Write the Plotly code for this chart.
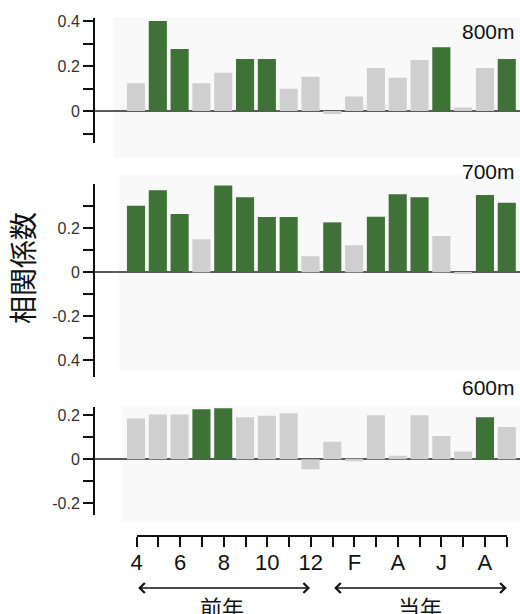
import plotly.graph_objects as go

W, H = 520, 614

# ---------------- data ----------------
months = ["4", "5", "6", "7", "8", "9", "10", "11", "12",
          "J", "F", "M", "A", "M", "J", "J", "A", "S"]
tick_labels = ["4", "", "6", "", "8", "", "10", "", "12",
               "", "F", "", "A", "", "J", "", "A", ""]

vals_800 = [0.123, 0.40, 0.276, 0.123, 0.17, 0.231, 0.231, 0.099, 0.152,
            -0.013, 0.065, 0.191, 0.148, 0.227, 0.283, 0.016, 0.191, 0.231]
sig_800 = [0, 1, 1, 0, 0, 1, 1, 0, 0, 0, 0, 0, 0, 0, 1, 0, 0, 1]

vals_700 = [0.303, 0.373, 0.265, 0.15, 0.394, 0.341, 0.251, 0.251, 0.073,
            0.227, 0.123, 0.253, 0.355, 0.341, 0.165, -0.008, 0.351, 0.316]
sig_700 = [1, 1, 1, 0, 1, 1, 1, 1, 0, 1, 0, 1, 1, 1, 0, 0, 1, 1]

vals_600 = [0.186, 0.204, 0.204, 0.227, 0.232, 0.191, 0.198, 0.209, -0.045,
            0.08, -0.009, 0.2, 0.016, 0.2, 0.106, 0.035, 0.191, 0.147]
sig_600 = [0, 0, 0, 1, 1, 0, 0, 0, 0, 0, 0, 0, 0, 0, 0, 0, 1, 0]

panel_names = ["800m", "700m", "600m"]
y_title = "相関係数"
prev_label = "前年"
curr_label = "当年"

# ---------------- styling ----------------
GREEN = "#3e7237"
GRAY = "#cfcfcf"
FONT = "Liberation Sans, Noto Sans CJK JP, sans-serif"

def py(p):
    return 1 - p / H

def px(p):
    return p / W

x_idx = list(range(len(months)))
pitch = 21.81
c0 = 136.0
x_range = [(95 - c0) / pitch, (520 - c0) / pitch]

panels = [
    (vals_800, sig_800, (18.3, 142.7), 111.0, 225.0,
     [-0.1, 0, 0.1, 0.2, 0.3, 0.4], ["", "0", "", "0.2", "", "0.4"], (113, 17, 158), 31),
    (vals_700, sig_700, (184.0, 377.0), 272.3, 220.0,
     [-0.4, -0.3, -0.2, -0.1, 0, 0.1, 0.2, 0.3], ["0.4", "", "-0.2", "", "0", "", "0.2", ""], (119, 175, 371), 171.7),
    (vals_600, sig_600, (406.7, 515.0), 459.3, 220.0,
     [-0.2, -0.1, 0, 0.1, 0.2], ["-0.2", "", "0", "", "0.2"], (122, 406, 522), 387.3),
]

fig = go.Figure()
shapes = []
annotations = []
layout = {}

for i, (vals, sig, (ytop, ybot), zpx, scale, tv, tt, bg, ly) in enumerate(panels):
    n = i + 1
    xa = "x" if n == 1 else f"x{n}"
    ya = "y" if n == 1 else f"y{n}"
    colors = [GREEN if s else GRAY for s in sig]
    fig.add_trace(go.Bar(x=x_idx, y=vals, marker=dict(color=colors, line=dict(width=0)),
                         xaxis=xa, yaxis=ya, showlegend=False, hoverinfo="y"))
    rtop = (zpx - ytop) / scale
    rbot = (zpx - ybot) / scale
    kx = "xaxis" if n == 1 else f"xaxis{n}"
    ky = "yaxis" if n == 1 else f"yaxis{n}"
    layout[kx] = dict(domain=[px(95), 1], range=x_range, visible=False, anchor=ya, automargin=False)
    layout[ky] = dict(domain=[py(ybot), py(ytop)], range=[rbot, rtop], anchor=xa, automargin=False,
                      showgrid=False, zeroline=True, zerolinecolor="#5a5a5a", zerolinewidth=1.5,
                      showline=True, linecolor="#111", linewidth=2,
                      ticks="outside", ticklen=10, tickwidth=1.5, tickcolor="#111",
                      tickvals=tv, ticktext=tt,
                      tickfont=dict(size=16, color="#333", family=FONT))
    shapes.append(dict(type="rect", xref="paper", yref="paper", x0=px(bg[0]), x1=1,
                       y0=py(bg[2]), y1=py(bg[1]), fillcolor="#f9f9f9", line=dict(width=0),
                       layer="below"))
    annotations.append(dict(text=panel_names[i], xref="paper", yref="paper", x=px(517), y=py(ly),
                            xanchor="right", yanchor="middle", showarrow=False,
                            font=dict(size=21, color="#111", family=FONT)))

# bottom month axis
fig.add_trace(go.Scatter(x=x_idx, y=[0] * len(x_idx), mode="markers", marker=dict(opacity=0),
                         xaxis="x4", yaxis="y4", showlegend=False, hoverinfo="skip"))
axis_px = 535
layout["xaxis4"] = dict(domain=[px(136.7), px(506.7)], range=[0, len(months) - 1], anchor="y4",
                        automargin=False, ticklabelstandoff=-3,
                        showgrid=False, zeroline=False, showline=True, linecolor="#111", linewidth=1.5,
                        ticks="outside", ticklen=10, tickwidth=1.5, tickcolor="#111",
                        tickvals=x_idx, ticktext=tick_labels,
                        tickfont=dict(size=22, color="#111", family=FONT))
layout["yaxis4"] = dict(domain=[py(axis_px), py(axis_px - 4)], visible=False, anchor="x4",
                        automargin=False)

# arrows
arrow_y = py(588)
for (xa0, xa1) in [(136.7, 310.0), (332.7, 506.7)]:
    annotations.append(dict(x=px(xa1), y=arrow_y, ax=-(xa1 - xa0), ay=0, xref="paper", yref="paper",
                            axref="pixel", ayref="pixel", text="", showarrow=True,
                            arrowhead=4, startarrowhead=4, arrowside="end+start",
                            arrowsize=1.3, startarrowsize=1.3, arrowwidth=1.5, arrowcolor="#111"))
annotations.append(dict(text=prev_label, xref="paper", yref="paper", x=px(222), y=py(608),
                        xanchor="center", yanchor="middle", showarrow=False,
                        font=dict(size=22, color="#111", family=FONT)))
annotations.append(dict(text=curr_label, xref="paper", yref="paper", x=px(420), y=py(608),
                        xanchor="center", yanchor="middle", showarrow=False,
                        font=dict(size=22, color="#111", family=FONT)))

annotations.append(dict(text=y_title, xref="paper", yref="paper", x=px(24), y=py(268),
                        xanchor="center", yanchor="middle", showarrow=False, textangle=-90,
                        font=dict(size=28, color="#111", family=FONT)))

fig.update_layout(width=W, height=H, margin=dict(l=0, r=0, t=0, b=0, autoexpand=False),
                  paper_bgcolor="white", plot_bgcolor="rgba(0,0,0,0)",
                  bargap=0.17, shapes=shapes, annotations=annotations,
                  font=dict(family=FONT), **layout)

fig.write_html("out.html", config={"displayModeBar": False},
               post_script="document.body.style.margin='0';document.body.style.padding='0';"
                           "document.body.style.overflow='hidden';")
